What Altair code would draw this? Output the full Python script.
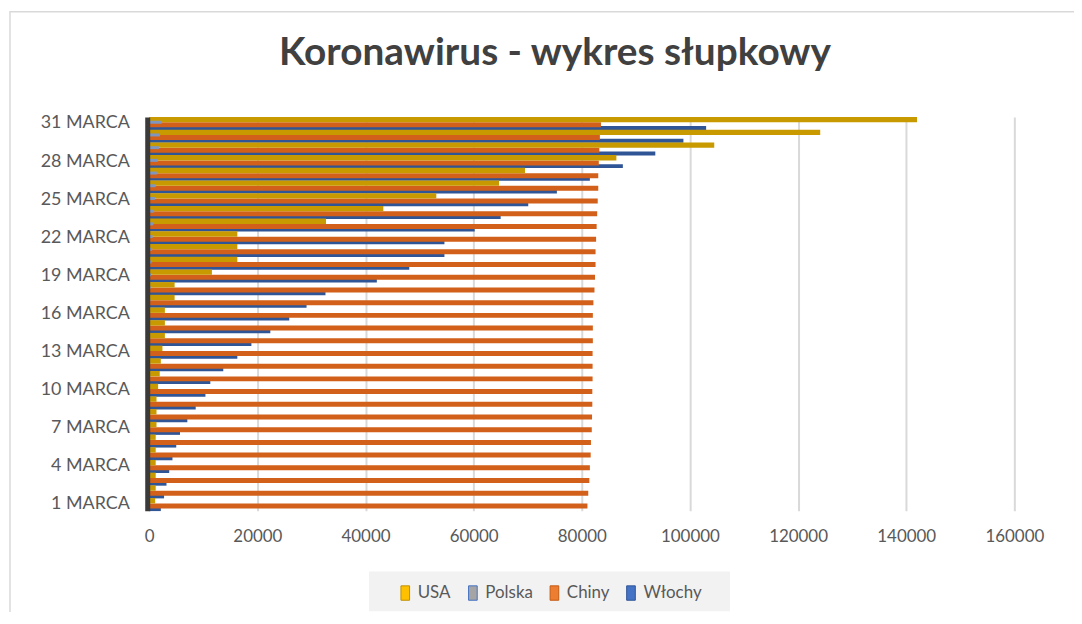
import altair as alt
import pandas as pd

days = ["1 MARCA", "2 MARCA", "3 MARCA", "4 MARCA", "5 MARCA", "6 MARCA", "7 MARCA",
        "8 MARCA", "9 MARCA", "10 MARCA", "11 MARCA", "12 MARCA", "13 MARCA", "14 MARCA",
        "15 MARCA", "16 MARCA", "17 MARCA", "18 MARCA", "19 MARCA", "20 MARCA", "21 MARCA",
        "22 MARCA", "23 MARCA", "24 MARCA", "25 MARCA", "26 MARCA", "27 MARCA", "28 MARCA",
        "29 MARCA", "30 MARCA", "31 MARCA"]

usa = [1100, 1200, 1200, 1200, 1200, 1200, 1350, 1350, 1350, 1650, 1950, 2150, 2450, 2900,
       2900, 2900, 4700, 4700, 11600, 16300, 16300, 16300, 32700, 43300, 53100, 64700, 69500,
       86400, 104500, 124100, 142000]
polska = [0, 0, 0, 1, 1, 5, 5, 10, 15, 20, 30, 50, 70, 100, 120, 150, 180, 250, 330, 420,
          540, 630, 750, 900, 1050, 1200, 1400, 1600, 1800, 2000, 2300]
chiny = [81050, 81200, 81400, 81500, 81650, 81700, 81850, 81900, 81950, 81950, 82000, 82000,
         82000, 82050, 82050, 82050, 82150, 82350, 82450, 82550, 82550, 82650, 82750, 82850,
         82950, 83050, 83050, 83150, 83250, 83350, 83550]
wlochy = [2150, 2750, 3200, 3700, 4300, 5000, 5700, 7050, 8600, 10400, 11300, 13700, 16300,
          18900, 22400, 25900, 29100, 32600, 42100, 48100, 54600, 54600, 60200, 65000, 70100,
          75400, 81500, 87600, 93600, 98800, 103000]

series = ["USA", "Polska", "Chiny", "Włochy"]
bar_colors = ["#C99A00", "#7F97C0", "#D2601A", "#2F5597"]
legend_fill = ["#FFC000", "#A5A5A5", "#ED7D31", "#4472C4"]
legend_stroke = ["#BF9000", "#4472C4", "#C55A11", "#2F5597"]
x_ticks = [0, 20000, 40000, 60000, 80000, 100000, 120000, 140000, 160000]
y_ticks = ["1 MARCA", "4 MARCA", "7 MARCA", "10 MARCA", "13 MARCA", "16 MARCA",
           "19 MARCA", "22 MARCA", "25 MARCA", "28 MARCA", "31 MARCA"]

rows = []
for s, vals in zip(series, [usa, polska, chiny, wlochy]):
    for d, v in zip(days, vals):
        rows.append({"dzien": d, "kraj": s, "wartosc": v})
df = pd.DataFrame(rows)

FONT = "Lato"

x_enc = alt.X("wartosc:Q",
              scale=alt.Scale(domain=[0, 160000], nice=False, zero=True),
              axis=alt.Axis(values=x_ticks, format="d", title=None, ticks=False, domain=False,
                            grid=True, gridColor="#D9D9D9", gridWidth=2, labelFlush=False,
                            labelFont=FONT, labelFontSize=17, labelColor="#595959",
                            labelPadding=18))
y_enc = alt.Y("dzien:N", sort=days[::-1],
              scale=alt.Scale(paddingInner=0, paddingOuter=0),
              axis=alt.Axis(values=y_ticks, title=None, ticks=False, domain=True,
                            domainColor="#3A3A3A", domainWidth=5, offset=2, grid=False,
                            labelFont=FONT, labelFontSize=18, labelColor="#595959",
                            labelPadding=18, zindex=1))
c_enc = alt.Color("kraj:N", scale=alt.Scale(domain=series, range=bar_colors), legend=None)

# per-series bar placement inside each day band: (yOffset, height)
placement = {"Włochy": (4.6, 4.0), "Chiny": (1.4, 5.0), "USA": (-3.8, 5.4), "Polska": (-1.2, 3.0)}

layers = []
# decorative chart frame and legend background
frame = alt.Chart(pd.DataFrame({"a": [0]})).mark_rect(
    filled=False, stroke="#D9D9D9", strokeWidth=1.5).encode(
    x=alt.value(-140), x2=alt.value(935), y=alt.value(-106), y2=alt.value(520))
layers.append(frame)
legbox = alt.Chart(pd.DataFrame({"a": [0]})).mark_rect(fill="#F2F2F2").encode(
    x=alt.value(221), x2=alt.value(584), y=alt.value(457), y2=alt.value(497))
layers.append(legbox)

for s in ["Włochy", "Chiny", "USA", "Polska"]:
    off, h = placement[s]
    layers.append(
        alt.Chart(df).transform_filter(alt.datum.kraj == s)
        .mark_bar(height=h, yOffset=off)
        .encode(x=x_enc, y=y_enc, color=c_enc)
    )

leg = alt.Legend(title=None, orient="none", direction="horizontal",
                 legendX=249, legendY=470, symbolType="M-0.6,-1H0.6V1H-0.6Z",
                 symbolSize=210, symbolStrokeWidth=1, symbolOpacity=1,
                 labelFont=FONT, labelFontSize=17, labelColor="#595959",
                 labelOffset=4, columnPadding=13)
legend_layer = alt.Chart(pd.DataFrame({"kraj": series})).mark_square(opacity=0, size=0).encode(
    fill=alt.Fill("kraj:N", scale=alt.Scale(domain=series, range=legend_fill), legend=leg),
    stroke=alt.Stroke("kraj:N", scale=alt.Scale(domain=series, range=legend_stroke), legend=leg),
)
layers.append(legend_layer)

chart = alt.layer(*layers).resolve_scale(color="independent").properties(
    width=870, height=396,
    title=alt.TitleParams("Koronawirus - wykres słupkowy", font=FONT, fontSize=39,
                          fontWeight="bold", color="#404040", anchor="middle",
                          frame="group", baseline="alphabetic", dx=-27, offset=-93),
    autosize=alt.AutoSizeParams(type="none"),
    padding={"left": 142, "top": 108, "right": 60, "bottom": 100},
).configure_view(stroke=None)

chart.save("out.html", embed_options={"renderer": "svg", "actions": False})
